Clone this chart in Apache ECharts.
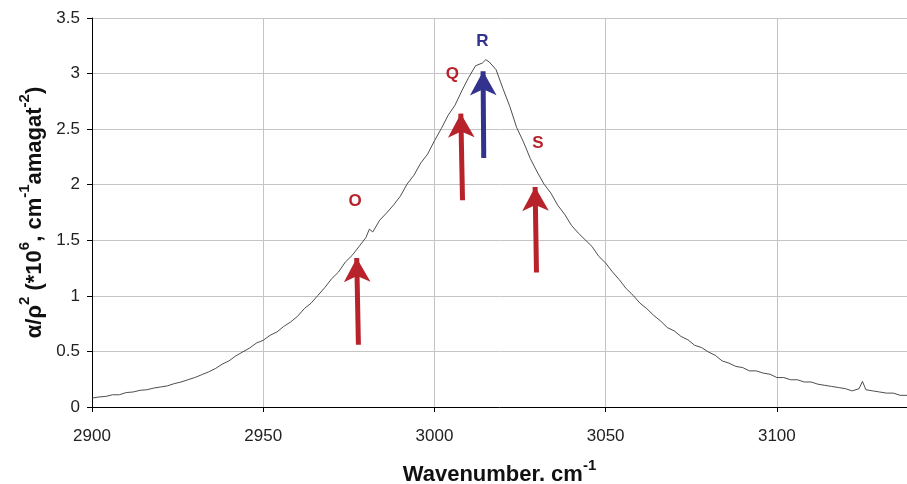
<!DOCTYPE html>
<html>
<head>
<meta charset="utf-8">
<script src="https://cdn.jsdelivr.net/npm/echarts@6/dist/echarts.min.js"></script>
<style>html,body{margin:0;padding:0;background:#fff}#c{width:907px;height:484px}</style>
</head>
<body>
<div id="c"></div>
<script>
// Spectrum (wavenumber, cm-1) and alpha/rho^2 values
const wavenumbers = [2900,2902,2904,2906,2908,2910,2912,2914,2916,2918,2920,2922,2924,2926,2928,2930,2932,2934,2936,2938,2940,2942,2944,2946,2948,2950,2952,2954,2956,2958,2960,2962,2964,2966,2968,2970,2972,2974,2976,2978,2980,2981,2982,2984,2986,2988,2990,2992,2994,2996,2998,3000,3002,3004,3006,3008,3010,3012,3014,3015,3016,3018,3020,3022,3024,3026,3028,3030,3032,3034,3036,3038,3040,3042,3044,3046,3048,3050,3052,3054,3056,3058,3060,3062,3064,3066,3068,3070,3072,3074,3076,3078,3080,3082,3084,3086,3088,3090,3092,3094,3096,3098,3100,3102,3104,3106,3108,3110,3112,3114,3116,3118,3120,3122,3124,3125,3126,3128,3130,3132,3134,3136,3138];
const intensity = [0.08,0.09,0.095,0.11,0.11,0.13,0.135,0.15,0.155,0.17,0.18,0.19,0.21,0.225,0.245,0.265,0.29,0.315,0.345,0.385,0.415,0.46,0.495,0.53,0.575,0.60,0.645,0.675,0.725,0.765,0.815,0.885,0.935,1.005,1.075,1.155,1.215,1.305,1.365,1.445,1.525,1.60,1.575,1.68,1.745,1.815,1.895,2.005,2.085,2.195,2.275,2.395,2.505,2.625,2.715,2.845,2.965,3.07,3.095,3.125,3.105,3.035,2.865,2.705,2.515,2.385,2.235,2.115,2.005,1.925,1.815,1.735,1.635,1.565,1.505,1.445,1.355,1.295,1.215,1.145,1.065,1.005,0.935,0.885,0.825,0.775,0.715,0.685,0.635,0.605,0.555,0.535,0.495,0.465,0.415,0.395,0.365,0.355,0.325,0.325,0.305,0.295,0.265,0.265,0.245,0.245,0.225,0.225,0.205,0.195,0.185,0.175,0.165,0.145,0.165,0.23,0.155,0.145,0.135,0.125,0.125,0.105,0.105];

// Branch labels and arrows (data coordinates)
const branchNames = ['O','Q','R','S'];
const branchLabelX = [2976.8,3005.2,3014.0,3030.2];
const branchLabelY = [1.85,2.99,3.29,2.37];
const arrowStartX = [2977.8,3008.2,3014.4,3029.8];
const arrowStartY = [0.56,1.86,2.24,1.21];
const arrowTipX = [2977.3,3007.7,3014.2,3029.4];
const arrowTipY = [1.34,2.64,3.02,1.98];
const branchColors = ['#b8232b','#b8232b','#33338f','#b8232b'];

const xTicks = {min:2900, max:3138, interval:50};
const yTicks = {min:0, max:3.5, interval:0.5};

const chart = echarts.init(document.getElementById('c'), null, {renderer:'canvas'});
const FONT = 'Liberation Sans, Arial, sans-serif';

const arrowLines = branchNames.map((n,i)=>[
  {coord:[arrowStartX[i],arrowStartY[i]], lineStyle:{color:branchColors[i], width:5, type:'solid'}, symbol:'none'},
  {coord:[arrowTipX[i],arrowTipY[i]], symbol:'arrow'}
]);

const richTitle = {
  b:{fontSize:22, fontWeight:'bold', fontFamily:FONT, color:'#111', lineHeight:28, verticalAlign:'bottom'},
  s:{fontSize:15, fontWeight:'bold', fontFamily:FONT, color:'#111', lineHeight:15, verticalAlign:'top'}
};

chart.setOption({
  animation:false,
  grid:{left:92, right:0, top:18, bottom:77, containLabel:false, outerBoundsMode:'none'},
  xAxis:{
    type:'value', min:xTicks.min, max:xTicks.max, interval:xTicks.interval,
    axisLine:{show:true, onZero:false, lineStyle:{color:'#000', width:1}},
    axisTick:{show:true, inside:false, length:5, lineStyle:{color:'#000'}},
    axisLabel:{color:'#222', fontSize:17, fontFamily:FONT, margin:21, showMaxLabel:false, formatter:v=>String(v)},
    splitLine:{show:true, lineStyle:{color:'#c4c4c4', width:1}},
    name:'{b|Wavenumber. cm}{s|-1}', nameLocation:'middle', nameGap:51,
    nameTextStyle:{rich:richTitle}
  },
  yAxis:{
    type:'value', min:yTicks.min, max:yTicks.max, interval:yTicks.interval,
    axisLine:{show:true, lineStyle:{color:'#000', width:1}},
    axisTick:{show:true, inside:false, length:5, lineStyle:{color:'#000'}},
    axisLabel:{color:'#222', fontSize:17, fontFamily:FONT, margin:12},
    splitLine:{show:true, lineStyle:{color:'#c4c4c4', width:1}},
    name:'{b|α/ρ}{s|2}{b| (*10}{s|6}{b|, cm}{s|-1}{b|amagat}{s|-2}{b|)}',
    nameLocation:'middle', nameRotate:90, nameGap:46,
    nameTextStyle:{rich:richTitle}
  },
  series:[
    {
      type:'line', data:wavenumbers.map((w,i)=>[w,intensity[i]]),
      showSymbol:false, symbol:'none',
      lineStyle:{color:'#3a3a3a', width:0.9},
      z:3,
      markLine:{
        silent:true, symbol:['none','arrow'], symbolSize:[20,24],
        label:{show:false}, data:arrowLines, animation:false
      }
    },
    {
      type:'scatter', symbolSize:0, itemStyle:{opacity:1},
      data:branchNames.map((n,i)=>({value:[branchLabelX[i],branchLabelY[i]], name:n,
        label:{color:branchColors[i]}})),
      label:{show:true, opacity:1, position:'inside', formatter:p=>p.name, fontSize:17, fontWeight:'bold', fontFamily:FONT},
      z:5
    }
  ]
});
</script>
</body>
</html>
